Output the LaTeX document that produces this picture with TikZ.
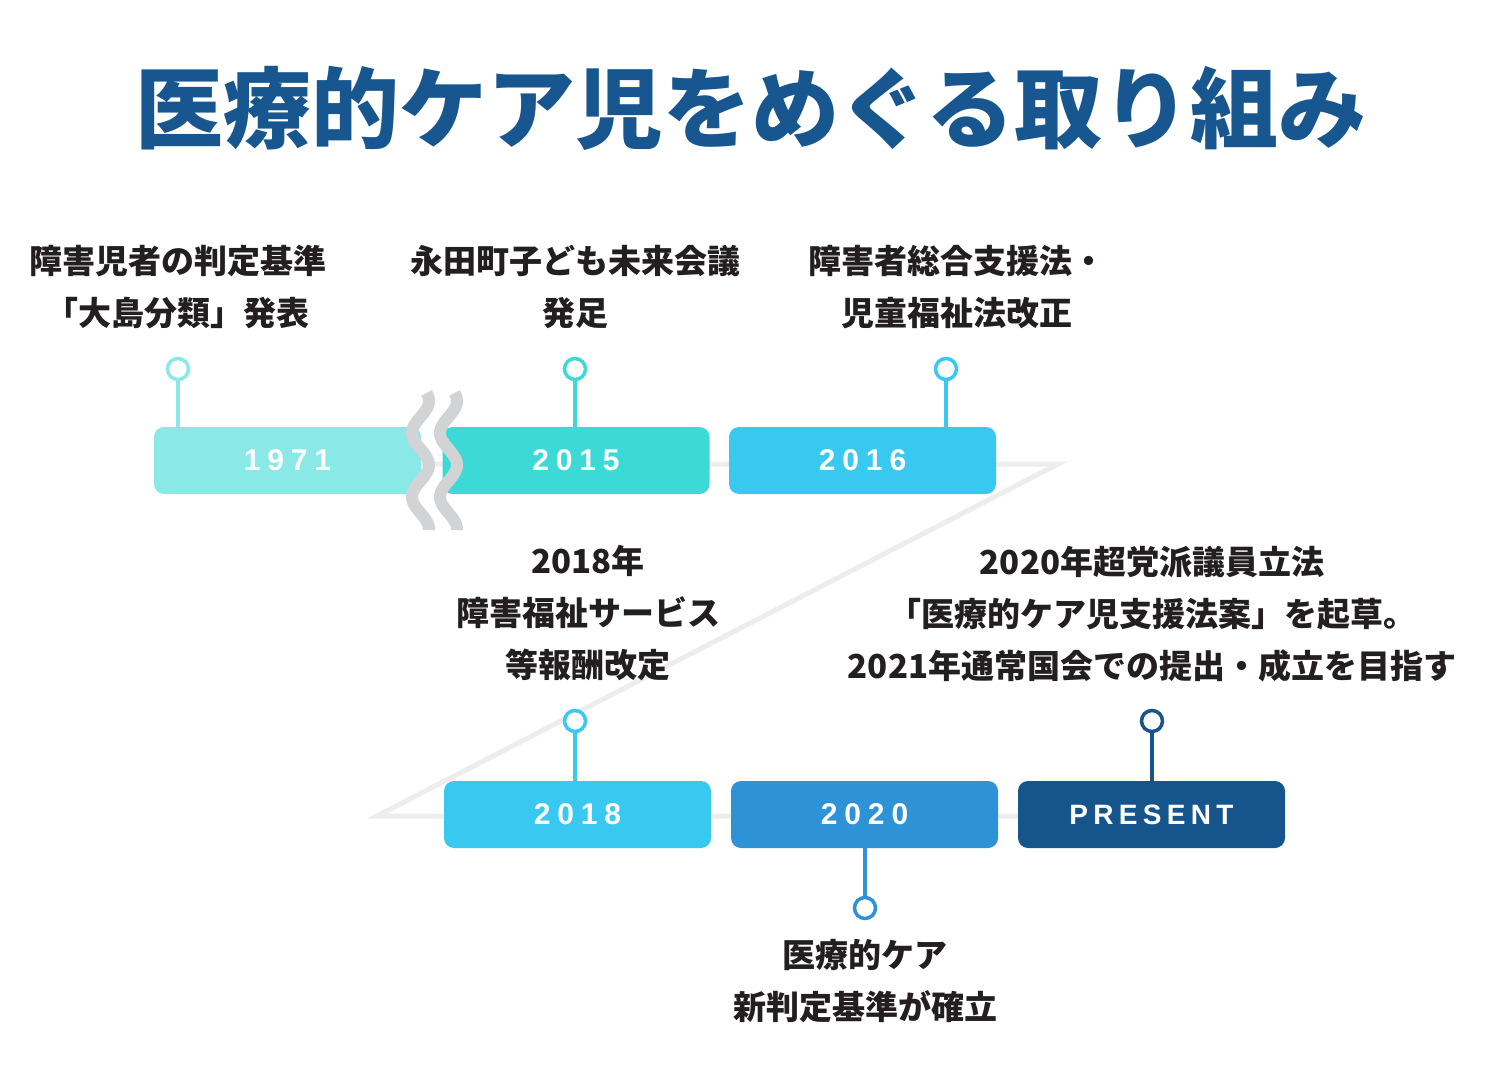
\documentclass[tikz,border=0pt]{standalone}
\usepackage{fontspec}
\setmainfont{Noto Sans CJK JP}
\newfontfamily\yearfont{Liberation Sans}[LetterSpace=23]
\definecolor{c1971}{HTML}{8AE9E7}
\definecolor{c2015}{HTML}{3DD9D6}
\definecolor{c2016}{HTML}{39C8EF}
\definecolor{c2020}{HTML}{2D93D6}
\definecolor{cpres}{HTML}{15558C}
\definecolor{ctitle}{HTML}{17568F}
\definecolor{ctext}{HTML}{231F20}
\definecolor{cline}{HTML}{EDEDED}
\definecolor{cwave}{HTML}{D1D3D4}
\begin{document}
\begin{tikzpicture}[x=1pt,y=-1pt,
  yearbox/.style={rectangle, rounded corners=10pt, minimum width=267pt, minimum height=67pt, inner sep=0pt, text=white, font=\yearfont\bfseries\fontsize{30}{30}\selectfont},
  pinhead/.style={circle, draw, fill=white, line width=3.5pt, minimum size=21pt, inner sep=0pt},
  pinline/.style={line width=3.5pt},
  evtext/.style={align=center, inner sep=0pt, text=ctext, font=\bfseries\fontsize{33}{52}\selectfont},
  timeline/.style={draw=cline, line width=5pt},
  wave/.style={draw=cwave, line width=12pt}
]
\useasboundingbox (0,0) rectangle (1499,1078);

% title
\node[inner sep=0pt, text=ctitle, font=\bfseries\fontsize{88}{88}\selectfont] (title) at (751,108) {医療的ケア児をめぐる取り組み};

% timeline coordinates
\coordinate (tr) at (1058,464);
\coordinate (bl) at (377,816);

% box places
\path (287.5,460.5) node[yearbox] (b1971) {}
 (576,460.5) node[yearbox] (b2015) {}
 (862.5,460.5) node[yearbox] (b2016) {}
 (577.5,814.5) node[yearbox] (b2018) {}
 (864.5,814.5) node[yearbox] (b2020) {}
 (1151.5,814.5) node[yearbox] (bpres) {};

\draw[timeline] (b1971.center |- tr) -- (tr) -- (bl) -- (bpres.center |- bl);

\node[yearbox, fill=c1971] (y1971) at (b1971) {1971};
\node[yearbox, fill=c2015] (y2015) at (b2015) {2015};
\node[yearbox, fill=c2016] (y2016) at (b2016) {2016};
\node[yearbox, fill=c2016] (y2018) at (b2018) {2018};
\node[yearbox, fill=c2020] (y2020) at (b2020) {2020};
\node[yearbox, fill=cpres] (ypres) at (bpres) {\fontsize{28}{28}\selectfont\addfontfeature{LetterSpace=19}PRESENT};

% pins
\node[pinhead, draw=c1971] (p1971) at (178,369) {};
\draw[pinline, draw=c1971] (p1971.south) -- (p1971.south |- y1971.north);
\node[pinhead, draw=c2015] (p2015) at (575,369) {};
\draw[pinline, draw=c2015] (p2015.south) -- (p2015.south |- y2015.north);
\node[pinhead, draw=c2016] (p2016) at (946,369) {};
\draw[pinline, draw=c2016] (p2016.south) -- (p2016.south |- y2016.north);
\node[pinhead, draw=c2016] (p2018) at (575,721) {};
\draw[pinline, draw=c2016] (p2018.south) -- (p2018.south |- y2018.north);
\node[pinhead, draw=c2020] (p2020) at (865,908) {};
\draw[pinline, draw=c2020] (p2020.north) -- (p2020.north |- y2020.south);
\node[pinhead, draw=cpres] (ppres) at (1152,721) {};
\draw[pinline, draw=cpres] (ppres.south) -- (ppres.south |- ypres.north);

% break waves
\draw[wave] plot[domain=393:530, samples=80, smooth] ({420.5-8.5*cos(5.625*(\x-433))}, \x);
\draw[wave] plot[domain=393:530, samples=80, smooth] ({448.5-8.5*cos(5.625*(\x-433))}, \x);

% event texts
\node[evtext] (t1971) at (178,287) {障害児者の判定基準\\「大島分類」発表};
\node[evtext] (t2015) at (575,287) {永田町子ども未来会議\\発足};
\node[evtext] (t2016) at (957,287) {障害者総合支援法・\\児童福祉法改正};
\node[evtext] (t2018) at (588,613) {2018年\\障害福祉サービス\\等報酬改定};
\node[evtext] (tpres) at (1152,614) {2020年超党派議員立法\\「医療的ケア児支援法案」を起草。\\2021年通常国会での提出・成立を目指す};
\node[evtext] (t2020) at (865,981) {医療的ケア\\新判定基準が確立};
\end{tikzpicture}
\end{document}
